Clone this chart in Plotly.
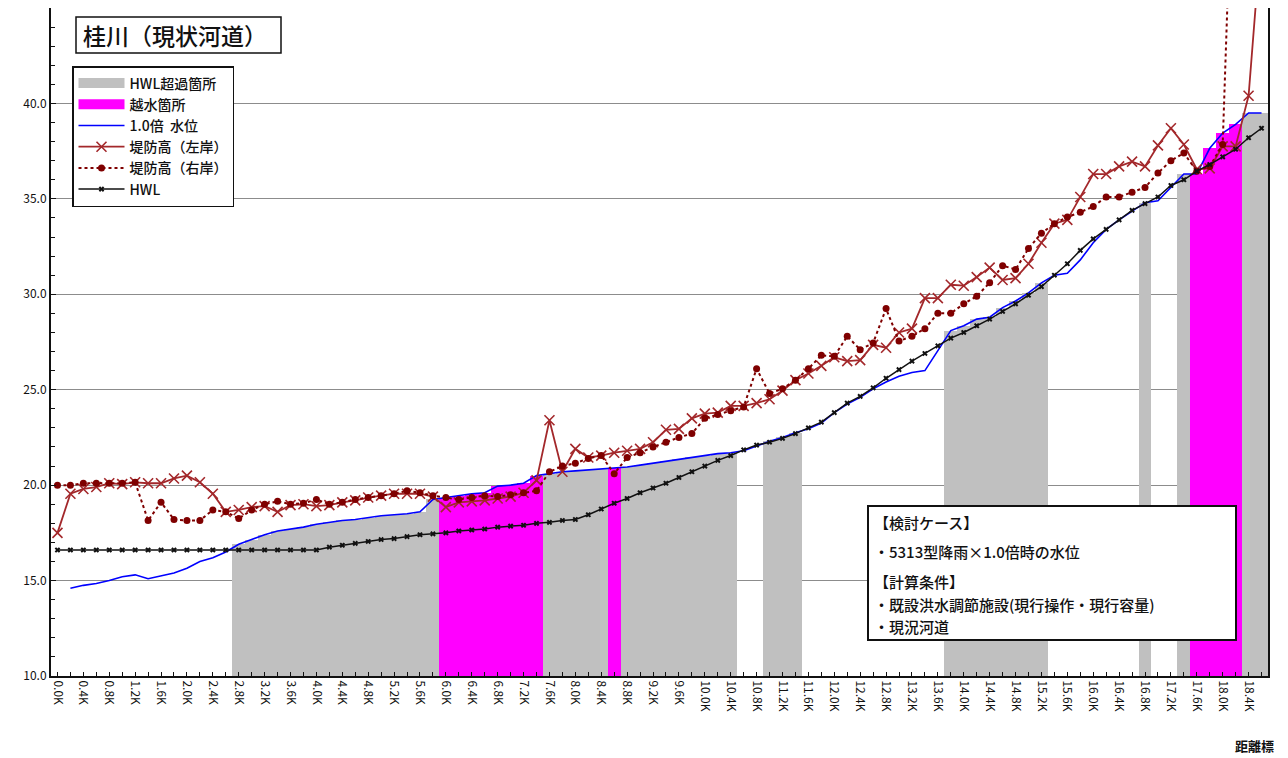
import plotly.graph_objects as go

# ---------------- data ----------------
categories = [
    "0.0K", "0.2K", "0.4K", "0.6K", "0.8K", "1.0K", "1.2K", "1.4K", "1.6K", "1.8K",
    "2.0K", "2.2K", "2.4K", "2.6K", "2.8K", "3.0K", "3.2K", "3.4K", "3.6K", "3.8K",
    "4.0K", "4.2K", "4.4K", "4.6K", "4.8K", "5.0K", "5.2K", "5.4K", "5.6K", "5.8K",
    "6.0K", "6.2K", "6.4K", "6.6K", "6.8K", "7.0K", "7.2K", "7.4K", "7.6K", "7.8K",
    "8.0K", "8.2K", "8.4K", "8.6K", "8.8K", "9.0K", "9.2K", "9.4K", "9.6K", "9.8K",
    "10.0K", "10.2K", "10.4K", "10.6K", "10.8K", "11.0K", "11.2K", "11.4K", "11.6K", "11.8K",
    "12.0K", "12.2K", "12.4K", "12.6K", "12.8K", "13.0K", "13.2K", "13.4K", "13.6K", "13.8K",
    "14.0K", "14.2K", "14.4K", "14.6K", "14.8K", "15.0K", "15.2K", "15.4K", "15.6K", "15.8K",
    "16.0K", "16.2K", "16.4K", "16.6K", "16.8K", "17.0K", "17.2K", "17.4K", "17.6K", "17.8K",
    "18.0K", "18.2K", "18.4K", "18.6K",
]

water_level = [
    None, 14.6, 14.75, 14.85, 15.0, 15.2, 15.3, 15.1, 15.25, 15.4,
    15.65, 16.0, 16.2, 16.5, 16.9, 17.15, 17.4, 17.6, 17.7, 17.8,
    17.95, 18.05, 18.15, 18.2, 18.3, 18.4, 18.45, 18.5, 18.6, 19.25,
    19.35, 19.45, 19.55, 19.6, 19.95, 20.0, 20.1, 20.5, 20.6, 20.7,
    20.75, 20.8, 20.85, 20.9, 20.95, 21.05, 21.15, 21.25, 21.35, 21.45,
    21.55, 21.65, 21.7, 21.8, 22.05, 22.3, 22.5, 22.75, 22.95, 23.25,
    23.8, 24.25, 24.6, 25.05, 25.4, 25.7, 25.9, 26.0, 27.05, 28.1,
    28.35, 28.7, 28.8, 29.3, 29.65, 30.07, 30.6, 31.0, 31.1, 31.8,
    32.7, 33.4, 33.9, 34.35, 34.8, 34.9, 35.6, 36.3, 36.3, 37.65,
    38.45, 38.9, 39.5, 39.5,
]

levee_left = [
    17.5, 19.55, 19.8, 19.9, 20.1, 20.05, 20.15, 20.1, 20.1, 20.35,
    20.5, 20.15, 19.55, 18.6, 18.7, 18.85, 18.9, 18.6, 18.95, 19.0,
    18.9, 18.95, 19.1, 19.2, 19.35, 19.45, 19.55, 19.55, 19.55, 19.4,
    18.85, 19.1, 19.15, 19.2, 19.3, 19.4, 19.6, 20.25, 23.4, 20.7,
    21.9, 21.45, 21.55, 21.7, 21.8, 21.9, 22.25, 22.9, 22.95, 23.5,
    23.75, 23.8, 24.15, 24.15, 24.3, 24.5, 24.95, 25.5, 25.85, 26.25,
    26.7, 26.5, 26.55, 27.35, 27.2, 28.0, 28.2, 29.8, 29.8, 30.5,
    30.45, 30.9, 31.4, 30.75, 30.85, 31.6, 32.7, 33.7, 33.9, 35.1,
    36.3, 36.3, 36.7, 36.95, 36.7, 37.8, 38.7, 37.85, 36.55, 36.6,
    37.75, 37.75, 40.4, 49.0,
]

levee_right = [
    20.0, 20.0, 20.1, 20.1, 20.1, 20.1, 20.15, 18.15, 19.1, 18.2,
    18.15, 18.15, 18.7, 18.6, 18.25, 18.7, 19.0, 19.15, 19.0, 19.05,
    19.25, 19.0, 19.1, 19.25, 19.35, 19.45, 19.55, 19.7, 19.6, 19.45,
    19.35, 19.25, 19.35, 19.45, 19.4, 19.5, 19.6, 19.7, 20.7, 21.0,
    21.15, 21.4, 21.55, 20.6, 21.45, 21.7, 22.0, 22.25, 22.5, 22.7,
    23.5, 23.7, 23.9, 24.1, 26.1, 24.8, 25.05, 25.5, 26.1, 26.8,
    26.75, 27.8, 27.1, 27.45, 29.25, 27.55, 27.8, 28.2, 29.0, 29.0,
    29.5, 29.9, 30.6, 31.5, 31.3, 32.4, 33.2, 33.7, 34.05, 34.3,
    34.6, 35.1, 35.1, 35.35, 35.6, 36.35, 37.0, 37.4, 36.45, 36.7,
    37.85, 58.0, 60.0, 60.0,
]

hwl = [
    16.6, 16.6, 16.6, 16.6, 16.6, 16.6, 16.6, 16.6, 16.6, 16.6,
    16.6, 16.6, 16.6, 16.6, 16.6, 16.6, 16.6, 16.6, 16.6, 16.6,
    16.6, 16.75, 16.85, 16.95, 17.05, 17.15, 17.2, 17.3, 17.4, 17.45,
    17.5, 17.6, 17.65, 17.7, 17.8, 17.85, 17.9, 18.0, 18.05, 18.15,
    18.2, 18.45, 18.75, 19.05, 19.3, 19.6, 19.85, 20.1, 20.4, 20.7,
    21.0, 21.3, 21.55, 21.85, 22.1, 22.25, 22.45, 22.7, 23.0, 23.3,
    23.8, 24.3, 24.65, 25.1, 25.6, 26.05, 26.5, 26.9, 27.3, 27.7,
    28.0, 28.35, 28.7, 29.1, 29.5, 29.95, 30.4, 31.0, 31.6, 32.3,
    32.9, 33.4, 33.9, 34.4, 34.75, 35.1, 35.7, 36.0, 36.45, 36.8,
    37.2, 37.6, 38.2, 38.7,
]

# sections where water level exceeds HWL (gray) / overtops levee (magenta)
hwl_exceed_sections = [
    "2.8K", "3.0K", "3.2K", "3.4K", "3.6K", "3.8K", "4.0K", "4.2K", "4.4K", "4.6K",
    "4.8K", "5.0K", "5.2K", "5.4K", "5.6K", "5.8K",
    "7.6K", "7.8K", "8.0K", "8.2K", "8.4K",
    "8.8K", "9.0K", "9.2K", "9.4K", "9.6K", "9.8K", "10.0K", "10.2K", "10.4K",
    "11.0K", "11.2K", "11.4K",
    "13.8K", "14.0K", "14.2K", "14.4K", "14.6K", "14.8K", "15.0K", "15.2K",
    "16.8K", "17.4K", "18.4K", "18.6K",
]
overflow_sections = [
    "6.0K", "6.2K", "6.4K", "6.6K", "6.8K", "7.0K", "7.2K", "7.4K",
    "8.6K",
    "17.6K", "17.8K", "18.0K", "18.2K",
]

y_tick_values = [10, 15, 20, 25, 30, 35, 40]

# ---------------- figure ----------------
FONT = "Noto Sans CJK JP"
C_GRAY = "#C0C0C0"
C_MAG = "#FF00FF"
C_BLUE = "#0000FF"
C_LEFT = "#A3282B"
C_RIGHT = "#7F0000"
TXT = "#111111"

# page offset of the figure (browser body margin) and plot-area geometry in page pixels
OFF = 8
ML, MT, MR, MB = 43, 0, 20, 82
W, H = 1280, 750
PLOT_L = ML + OFF
PLOT_B = H - MB + OFF
PLOT_W = W - ML - MR
PLOT_H = H - MT - MB

gray_y = [water_level[categories.index(c)] for c in hwl_exceed_sections]
mag_y = [water_level[categories.index(c)] for c in overflow_sections]

fig = go.Figure()

fig.add_trace(go.Bar(x=hwl_exceed_sections, y=gray_y, width=1.0,
                     marker=dict(color=C_GRAY, line=dict(width=0)),
                     showlegend=False, hoverinfo="skip"))
fig.add_trace(go.Bar(x=overflow_sections, y=mag_y, width=1.0,
                     marker=dict(color=C_MAG, line=dict(width=0)),
                     showlegend=False, hoverinfo="skip"))

# legend proxies for the bar series (wide swatches)
fig.add_trace(go.Scatter(x=[None], y=[None], mode="lines", name="HWL超過箇所",
                         line=dict(color=C_GRAY, width=13)))
fig.add_trace(go.Scatter(x=[None], y=[None], mode="lines", name="越水箇所",
                         line=dict(color=C_MAG, width=13)))

fig.add_trace(go.Scatter(x=categories, y=water_level, mode="lines", name="1.0倍  水位",
                         line=dict(color=C_BLUE, width=1.6)))
fig.add_trace(go.Scatter(x=categories, y=levee_left, mode="lines+markers", name="堤防高（左岸）",
                         line=dict(color=C_LEFT, width=1.8),
                         marker=dict(symbol="x-thin", size=10,
                                     line=dict(color=C_LEFT, width=1.6))))
fig.add_trace(go.Scatter(x=categories, y=levee_right, mode="lines+markers", name="堤防高（右岸）",
                         line=dict(color=C_RIGHT, width=2, dash="3px,3px"),
                         marker=dict(symbol="circle", size=7, color=C_RIGHT)))
fig.add_trace(go.Scatter(x=categories, y=hwl, mode="lines+markers", name="HWL",
                         line=dict(color=TXT, width=1.5),
                         marker=dict(symbol="x", size=5, color=TXT)))

ticktext = [c if i % 2 == 0 else "" for i, c in enumerate(categories)]


def px_x(px):
    return (px - PLOT_L) / PLOT_W


def px_y(py):
    return (PLOT_B - py) / PLOT_H


fig.update_layout(
    width=W, height=H,
    margin=dict(l=ML, r=MR, t=MT, b=MB, autoexpand=False),
    paper_bgcolor="white", plot_bgcolor="white",
    barmode="overlay", bargap=0,
    font=dict(family=FONT, color=TXT),
    showlegend=True,
    legend=dict(x=px_x(72), y=px_y(66), xanchor="left", yanchor="top",
                bgcolor="white", bordercolor=TXT, borderwidth=1.5,
                font=dict(size=14, family=FONT, color=TXT, weight=500),
                traceorder="normal", tracegroupgap=0, itemwidth=46),
    xaxis=dict(type="category", categoryorder="array", categoryarray=categories,
               range=[-0.5, len(categories) - 0.5],
               tickmode="array", tickvals=categories, ticktext=ticktext,
               tickangle=90, ticks="inside", ticklen=4, tickcolor=TXT,
               tickfont=dict(size=12, family=FONT, color=TXT),
               showline=True, linecolor=TXT, linewidth=2, mirror=True,
               showgrid=False, zeroline=False),
    yaxis=dict(range=[10, 45], tickmode="array", tickvals=y_tick_values,
               tickformat=".1f", ticks="inside", ticklen=5, tickcolor=TXT,
               minor=dict(dtick=1, ticks="inside", ticklen=4, tickcolor=TXT, showgrid=False),
               tickfont=dict(size=12, family=FONT, color=TXT),
               showline=True, linecolor=TXT, linewidth=2, mirror=True,
               showgrid=True, gridcolor="#8C8C8C", gridwidth=1, zeroline=False),
)

# title box
fig.add_shape(type="rect", xref="paper", yref="paper",
              x0=px_x(76), x1=px_x(281), y0=px_y(53), y1=px_y(17),
              line=dict(color=TXT, width=1.5), fillcolor="white", layer="above")
fig.add_annotation(xref="paper", yref="paper", x=px_x(81), y=px_y(35),
                   xanchor="left", yanchor="middle", showarrow=False,
                   text="桂川（現状河道）",
                   font=dict(size=23, family=FONT, color=TXT, weight=500))

# condition box
fig.add_shape(type="rect", xref="paper", yref="paper",
              x0=px_x(868), x1=px_x(1236), y0=px_y(640), y1=px_y(506),
              line=dict(color=TXT, width=2), fillcolor="white", layer="above")
info_lines = [
    ("【検討ケース】", 522),
    ("・5313型降雨×1.0倍時の水位", 551),
    ("【計算条件】", 581),
    ("・既設洪水調節施設(現行操作・現行容量)", 604),
    ("・現況河道", 626),
]
for txt, py in info_lines:
    fig.add_annotation(xref="paper", yref="paper", x=px_x(872), y=px_y(py),
                       xanchor="left", yanchor="middle", showarrow=False,
                       text=txt, font=dict(size=15, family=FONT, color=TXT, weight=500))

# axis caption
fig.add_annotation(xref="paper", yref="paper", x=px_x(1276), y=px_y(745),
                   xanchor="right", yanchor="middle", showarrow=False,
                   text="距離標", font=dict(size=13, family=FONT, color=TXT, weight="bold"))

fig.write_html("out.html")
